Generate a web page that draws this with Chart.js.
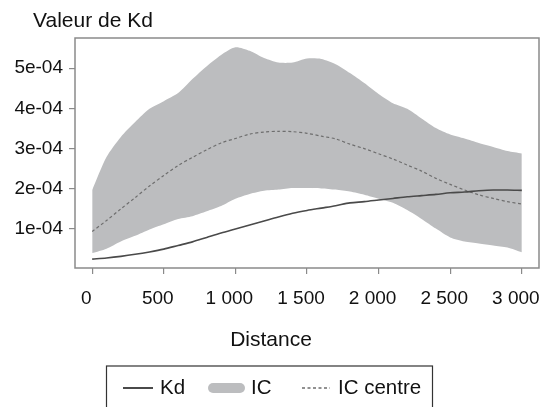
<!DOCTYPE html>
<html>
<head>
<meta charset="utf-8">
<script src="https://cdn.jsdelivr.net/npm/chart.js@4.4.0/dist/chart.umd.min.js"></script>
<style>
  body { margin: 0; background: #fff; }
  #wrap { width: 544px; height: 407px; }
</style>
</head>
<body>
<div id="wrap"><canvas id="canvas1" width="544" height="407"></canvas></div>
<script>
/* data */

var distance = [0, 100, 200, 300, 400, 500, 600, 700, 800, 900, 1000, 1100, 1200, 1300, 1400, 1500,
  1600, 1700, 1800, 1900, 2000, 2100, 2200, 2300, 2400, 2500, 2600, 2700, 2800, 2900, 3000];

var kd = [0.25e-4, 0.28e-4, 0.32e-4, 0.37e-4, 0.43e-4, 0.50e-4, 0.59e-4, 0.68e-4, 0.79e-4, 0.90e-4,
  1.00e-4, 1.10e-4, 1.20e-4, 1.30e-4, 1.39e-4, 1.46e-4, 1.52e-4, 1.58e-4, 1.65e-4, 1.68e-4,
  1.72e-4, 1.76e-4, 1.80e-4, 1.83e-4, 1.86e-4, 1.90e-4, 1.92e-4, 1.95e-4, 1.97e-4, 1.97e-4, 1.96e-4];

var icHaut = [1.97e-4, 2.79e-4, 3.29e-4, 3.66e-4, 3.99e-4, 4.18e-4, 4.38e-4, 4.73e-4, 5.05e-4, 5.33e-4,
  5.52e-4, 5.43e-4, 5.25e-4, 5.14e-4, 5.14e-4, 5.24e-4, 5.23e-4, 5.10e-4, 4.88e-4, 4.63e-4,
  4.36e-4, 4.13e-4, 3.99e-4, 3.75e-4, 3.51e-4, 3.35e-4, 3.25e-4, 3.14e-4, 3.04e-4, 2.94e-4, 2.88e-4];

var icBas = [0.40e-4, 0.51e-4, 0.69e-4, 0.83e-4, 0.99e-4, 1.12e-4, 1.25e-4, 1.32e-4, 1.44e-4, 1.57e-4,
  1.75e-4, 1.87e-4, 1.95e-4, 1.98e-4, 2.02e-4, 2.02e-4, 2.01e-4, 1.98e-4, 1.93e-4, 1.85e-4,
  1.75e-4, 1.65e-4, 1.47e-4, 1.25e-4, 1.01e-4, 0.79e-4, 0.69e-4, 0.64e-4, 0.59e-4, 0.54e-4, 0.42e-4];

var icCentre = [0.94e-4, 1.21e-4, 1.50e-4, 1.78e-4, 2.07e-4, 2.33e-4, 2.58e-4, 2.78e-4, 2.97e-4, 3.14e-4,
  3.25e-4, 3.36e-4, 3.41e-4, 3.43e-4, 3.42e-4, 3.38e-4, 3.31e-4, 3.24e-4, 3.11e-4, 3.00e-4,
  2.87e-4, 2.74e-4, 2.59e-4, 2.44e-4, 2.26e-4, 2.11e-4, 1.97e-4, 1.85e-4, 1.76e-4, 1.68e-4, 1.62e-4];

var xTicks = [0, 500, 1000, 1500, 2000, 2500, 3000];
var xTickLabels = ['0', '500', '1 000', '1 500', '2 000', '2 500', '3 000'];
var yTicks = [1e-4, 2e-4, 3e-4, 4e-4, 5e-4];
var yTickLabels = ['1e-04', '2e-04', '3e-04', '4e-04', '5e-04'];

var legendLabels = ['Kd', 'IC', 'IC centre'];

/* styles */

var lineColor = '#4a4a4a';
var dashColor = '#6e6e6e';
var bandColor = '#bcbdbf';
var frameColor = '#8a8a8a';
var fontFam = '"Liberation Sans", Arial, Helvetica, sans-serif';

function toPoints(values) {
  var pts = [];
  for (var i = 0; i < values.length; i++) {
    pts.push({ x: distance[i], y: values[i] });
  }
  return pts;
}

/* frame, titles and legend drawn by hand */

var extras = {
  id: 'extras',
  afterDatasetsDraw: function (chart) {
    var ctx = chart.ctx;
    var a = chart.chartArea;
    ctx.save();
    ctx.strokeStyle = frameColor;
    ctx.lineWidth = 1.5;
    ctx.strokeRect(a.left, a.top, a.right - a.left, a.bottom - a.top);
    ctx.restore();
  },
  afterDraw: function (chart) {
    var ctx = chart.ctx;
    ctx.save();
    ctx.fillStyle = '#111';
    ctx.textBaseline = 'middle';
    ctx.font = '21px ' + fontFam;
    ctx.textAlign = 'left';
    ctx.fillText('Valeur de Kd', 33, 21);
    ctx.textAlign = 'center';
    ctx.fillText('Distance', 271, 340);

    /* legend box */
    ctx.strokeStyle = '#333';
    ctx.lineWidth = 1.2;
    ctx.strokeRect(106.5, 366, 326, 60);

    var ly = 388;
    ctx.strokeStyle = lineColor;
    ctx.lineWidth = 2;
    ctx.beginPath();
    ctx.moveTo(123, ly);
    ctx.lineTo(153, ly);
    ctx.stroke();

    ctx.fillStyle = bandColor;
    ctx.beginPath();
    ctx.moveTo(213, ly - 5);
    ctx.lineTo(240, ly - 5);
    ctx.arc(240, ly, 5, -Math.PI / 2, Math.PI / 2);
    ctx.lineTo(213, ly + 5);
    ctx.arc(213, ly, 5, Math.PI / 2, Math.PI * 1.5);
    ctx.fill();

    ctx.strokeStyle = dashColor;
    ctx.lineWidth = 1.3;
    ctx.setLineDash([3, 2.5]);
    ctx.beginPath();
    ctx.moveTo(302, ly);
    ctx.lineTo(330, ly);
    ctx.stroke();
    ctx.setLineDash([]);

    ctx.fillStyle = '#111';
    ctx.textAlign = 'left';
    ctx.font = '20.5px ' + fontFam;
    ctx.fillText(legendLabels[0], 160, ly);
    ctx.fillText(legendLabels[1], 251, ly);
    ctx.fillText(legendLabels[2], 338, ly);
    ctx.restore();
  }
};

/* graph */

var ctx = document.getElementById('canvas1').getContext('2d');

var myChart = new Chart(ctx, {
  type: 'line',
  data: {
    datasets: [
      {
        label: legendLabels[0],
        data: toPoints(kd),
        borderColor: lineColor,
        borderWidth: 1.6,
        pointRadius: 0,
        tension: 0.3,
        fill: false
      },
      {
        label: legendLabels[2],
        data: toPoints(icCentre),
        borderColor: dashColor,
        borderWidth: 1.2,
        borderDash: [3, 2.5],
        pointRadius: 0,
        tension: 0.3,
        fill: false
      },
      {
        label: legendLabels[1],
        data: toPoints(icHaut),
        borderWidth: 0,
        borderColor: bandColor,
        backgroundColor: bandColor,
        pointRadius: 0,
        tension: 0.25,
        fill: '+1'
      },
      {
        label: 'IC bas',
        data: toPoints(icBas),
        borderWidth: 0,
        borderColor: bandColor,
        pointRadius: 0,
        tension: 0.25,
        fill: false
      }
    ]
  },
  options: {
    responsive: false,
    animation: false,
    layout: { padding: { top: 38, right: 5, left: 0, bottom: 0 } },
    plugins: {
      legend: { display: false },
      tooltip: { enabled: false }
    },
    scales: {
      x: {
        type: 'linear',
        min: -120,
        max: 3120,
        afterBuildTicks: function (scale) {
          scale.ticks = xTicks.map(function (v) { return { value: v }; });
        },
        afterFit: function (scale) {
          scale.height = 139;
          scale.paddingLeft = 0;
          scale.paddingRight = 0;
        },
        border: { display: false },
        grid: { drawOnChartArea: false, tickLength: 6, color: frameColor, lineWidth: 1.2 },
        ticks: {
          padding: 13,
          labelOffset: -6,
          maxRotation: 0,
          autoSkip: false,
          color: '#111',
          font: { family: fontFam, size: 19 },
          callback: function (v, i) { return xTickLabels[i]; }
        }
      },
      y: {
        min: 0.03e-4,
        max: 5.75e-4,
        afterBuildTicks: function (scale) {
          scale.ticks = yTicks.map(function (v) { return { value: v }; });
        },
        afterFit: function (scale) {
          scale.width = 75;
          scale.paddingTop = 0;
          scale.paddingBottom = 0;
        },
        border: { display: false },
        grid: { drawOnChartArea: false, tickLength: 6, color: frameColor, lineWidth: 1.2 },
        ticks: {
          padding: 6,
          color: '#111',
          font: { family: fontFam, size: 19 },
          callback: function (v, i) { return yTickLabels[i]; }
        }
      }
    }
  },
  plugins: [extras]
});
</script>
</body>
</html>
